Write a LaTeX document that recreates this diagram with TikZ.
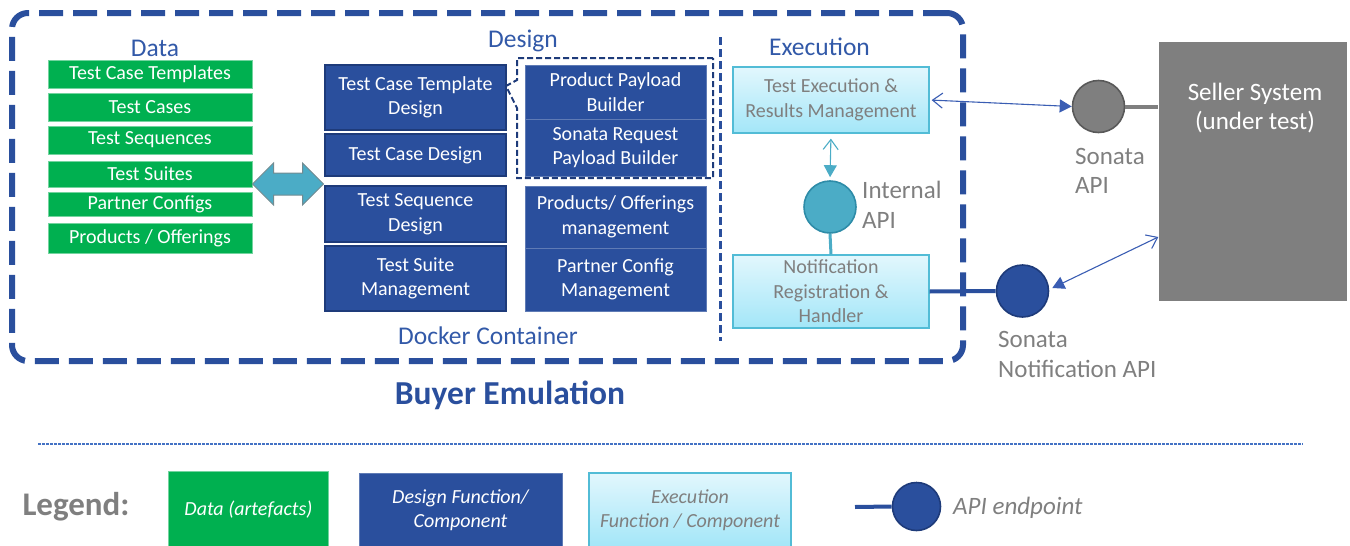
\documentclass[tikz,border=0pt]{standalone}
\usepackage{fontspec}
\setmainfont{Carlito}
\usetikzlibrary{arrows.meta,calc}

\definecolor{dgreen}{HTML}{00B050}
\definecolor{dblue}{HTML}{2A4F9D}
\definecolor{dbluedark}{HTML}{1E3B7A}
\definecolor{hblue}{HTML}{3259A8}
\definecolor{lblue}{HTML}{3A5DB3}
\definecolor{xteal}{HTML}{4BACC6}
\definecolor{xtealdark}{HTML}{2E8CA8}
\definecolor{exectop}{HTML}{E2F7FD}
\definecolor{execbot}{HTML}{A3E6F8}
\definecolor{execline}{HTML}{52BCD6}
\definecolor{txtgray}{HTML}{7F7F7F}
\definecolor{sellergray}{HTML}{7F7F7F}
\definecolor{dotblue}{HTML}{4472C4}

\newcommand{\boxfont}{\fontsize{20pt}{24.5pt}\selectfont}
\newcommand{\headfont}{\fontsize{25.5pt}{30pt}\selectfont}
\newcommand{\apifont}{\fontsize{25pt}{29.5pt}\selectfont}
\newcommand{\legfont}{\fontsize{20pt}{24pt}\selectfont\itshape}

\begin{document}
\begin{tikzpicture}[x=1pt,y=-1pt,
  databox/.style={rectangle, fill=dgreen, draw=dgreen!55!white, line width=0.8pt,
    text=white, minimum width=204pt, inner sep=0pt, font=\boxfont},
  desbox/.style={rectangle, fill=dblue, draw=dbluedark, line width=1.6pt,
    text=white, minimum width=181pt, inner sep=0pt, align=center, font=\boxfont},
  desboxr/.style={rectangle, fill=dblue, draw=dblue!75!white, line width=0.9pt,
    text=white, minimum width=181pt, inner sep=0pt, align=center, font=\boxfont},
  execbox/.style={rectangle, top color=exectop, bottom color=execbot, draw=execline,
    line width=1.3pt, text=txtgray, minimum width=196pt, inner sep=0pt,
    align=center, font=\boxfont},
  apidot/.style={circle, minimum size=52pt, inner sep=0pt, line width=1.6pt},
  header/.style={text=hblue, font=\headfont, inner sep=0pt},
  apilabel/.style={text=txtgray, font=\apifont, align=left, anchor=west, inner sep=0pt},
  linkarrow/.style={draw=lblue, line width=1.1pt,
    {Straight Barb[length=10pt,width=15pt]}-{Triangle[length=12pt,width=13pt]}},
  legbox/.style={rectangle, inner sep=0pt, align=center, font=\legfont}
]
\useasboundingbox (0,0) rectangle (1350,546);

% ---------- Docker container ----------
\node[draw=dblue, line width=6pt, dash pattern=on 24pt off 10pt, rounded corners=16pt,
      minimum width=951pt, minimum height=348pt, inner sep=0pt] (docker) at (487.5,187) {};
\node[header] (dockerlbl) at (488,336) {Docker Container};

% ---------- Data column ----------
\node[header] (datalbl) at (155,48) {Data};
\node[databox, minimum height=28pt] (d1) at (150,74)    {Test Case Templates};
\node[databox, minimum height=28pt] (d2) at (150,107)   {Test Cases};
\node[databox, minimum height=28pt] (d3) at (150,140)   {Test Sequences};
\node[databox, minimum height=26pt] (d4) at (150,174)   {Test Suites};
\node[databox, minimum height=24pt] (d5) at (150,204.5) {Partner Configs};
\node[databox, minimum height=30pt] (d6) at (150,238)   {Products / Offerings};

% data <-> design exchange arrow
\coordinate (xfer) at (288,184);
\filldraw[fill=xteal, draw=gray!75!xteal, line width=1pt]
  (xfer) ++(-35.5,0) -- ++(21,-21) -- ++(0,10) -- ++(29,0) -- ++(0,-10)
  -- ++(21,21) -- ++(-21,21) -- ++(0,-10) -- ++(-29,0) -- ++(0,10) -- cycle;

% ---------- Design column ----------
\node[header] (designlbl) at (523,41) {Design};
\node[desbox, minimum height=65pt] (tctd) at (415.5,97.5) {Test Case Template\\Design};
\node[desbox, minimum height=42pt] (tcd)  at (415.5,155)  {Test Case Design};
\node[desbox, minimum height=56pt] (tsd)  at (415.5,214)  {Test Sequence\\Design};
\node[desbox, minimum height=65pt] (tsm)  at (415.5,278.5){Test Suite\\Management};

\node[desboxr, minimum height=54pt] (ppb) at (615.5,92)    {Product Payload\\Builder};
\node[desboxr, minimum height=57pt] (srb) at (615.5,147.5) {Sonata Request\\Payload Builder};
\node[desboxr, minimum height=62pt] (pom) at (615.5,217)   {Products/ Offerings\\management};
\node[desboxr, minimum height=63pt] (pcm) at (615.5,279.5) {Partner Config\\Management};

% builder group, pointing at the template design box
\coordinate (ptr) at (506,86);
\draw[dbluedark, line width=2pt, dash pattern=on 6pt off 3pt]
  (713,58) -- (517,58) -- (517,80) -- (ptr) -- (517,108) -- (517,178) -- (713,178) -- cycle;

% design / execution separator
\draw[dblue, line width=3pt, dash pattern=on 8pt off 4pt] (720,37) -- (720,341);

% ---------- Execution column ----------
\node[header] (execlbl) at (819.5,47) {Execution};
\node[execbox, minimum height=66pt] (exec1) at (831,100)   {Test Execution \&\\Results Management};
\node[execbox, minimum height=73pt] (exec2) at (831,291.5) {Notification\\Registration \&\\Handler};

\node[apidot, fill=xteal, draw=xtealdark] (iapi) at (830,207) {};
\node[apilabel] (iapilbl) at (862,205) {Internal\\API};

\draw[draw=xteal, line width=1.1pt, shorten <=5pt, shorten >=3pt,
      {Straight Barb[length=10pt,width=15pt]}-{Triangle[length=12pt,width=13pt]}]
  (exec1.south) -- (iapi.north);
\draw[draw=xteal, line width=3pt] (iapi.south) -- (exec2.north);

% ---------- Seller side ----------
\node[rectangle, fill=sellergray, minimum width=188.5pt, minimum height=259pt, inner sep=0pt]
  (seller) at (1252.75,171.5) {};
\node[text=white, font=\apifont, align=center, inner sep=0pt] (sellerlbl) at (1255,108)
  {Seller System\\(under test)};

\node[apidot, fill=sellergray, draw=gray!70!black] (sapi) at (1098.5,106.5) {};
\node[apilabel] (sapilbl) at (1075,171) {Sonata\\API};
\draw[draw=sellergray, line width=4pt] (sapi.east) -- (sapi.east -| seller.west);
\draw[linkarrow, shorten <=2pt] (exec1.east) -- (sapi.west);

\node[apidot, fill=dblue, draw=dbluedark] (napi) at (1022.5,291) {};
\node[apilabel] (napilbl) at (998,354.5) {Sonata\\Notification API};
\draw[draw=dblue, line width=4pt] (exec2.east) -- (napi.west);
\coordinate (sellerin) at ([yshift=-65.5pt]seller.west);
\draw[draw=lblue, line width=1.1pt,
      {Triangle[length=12pt,width=13pt]}-{Straight Barb[length=10pt,width=15pt]}]
  ([xshift=3pt,yshift=3pt]napi.east) -- (sellerin);

% ---------- Title ----------
\node[text=dblue, font=\fontsize{33.5pt}{40pt}\selectfont\bfseries, inner sep=0pt]
  (title) at (510,395) {Buyer Emulation};

% ---------- Legend ----------
\draw[dotblue, line width=1.3pt, dash pattern=on 2.5pt off 1.5pt] (38,444) -- (1303,444);

\node[text=txtgray, font=\fontsize{33pt}{40pt}\selectfont\bfseries, inner sep=0pt]
  (leglbl) at (76,507) {Legend:};
\node[legbox, fill=dgreen, draw=dgreen!55!white, line width=0.8pt, text=white,
      minimum width=160pt, minimum height=78pt] (lgdata) at (248.5,510) {Data (artefacts)};
\node[legbox, fill=dblue, draw=dblue!75!white, line width=0.9pt, text=white,
      minimum width=203pt, minimum height=75pt] (lgdes) at (460.5,510.5) {Design Function/\\Component};
\node[legbox, top color=exectop, bottom color=execbot, draw=execline, line width=1.3pt,
      text=txtgray, minimum width=202pt, minimum height=74pt] (lgexec) at (690,510)
      {Execution\\Function / Component};

\coordinate (lgstub) at (855,507);
\node[circle, fill=dblue, draw=dbluedark, line width=1.6pt, minimum size=48pt, inner sep=0pt]
  (lgapi) at (916.5,506.5) {};
\draw[draw=dblue, line width=4pt] (lgstub) -- (lgapi.west);
\node[text=txtgray, font=\fontsize{25pt}{29pt}\selectfont\itshape, anchor=west, inner sep=0pt]
  (lgapilbl) at (953,508) {API endpoint};
\end{tikzpicture}
\end{document}
